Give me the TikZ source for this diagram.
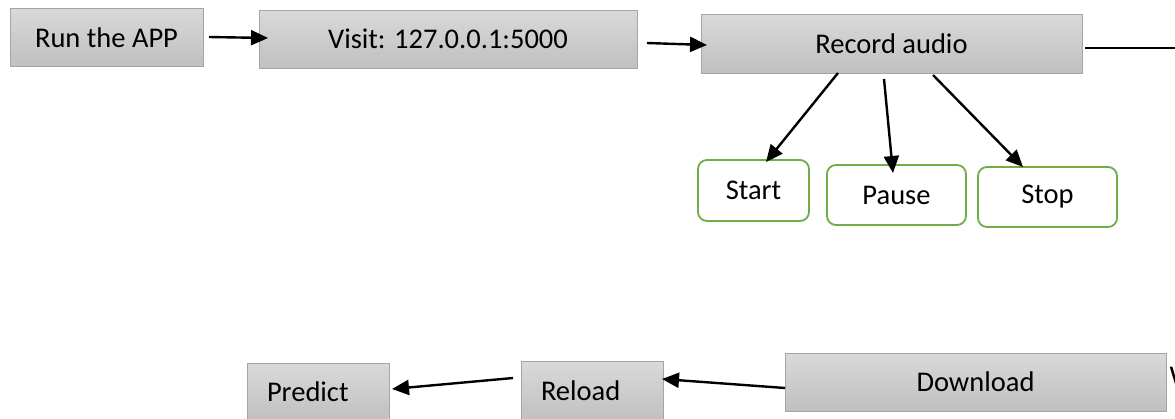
\documentclass[tikz,border=0pt]{standalone}
\usepackage{fontspec}
\setmainfont{Carlito}
\usetikzlibrary{arrows.meta,calc}

\definecolor{boxtop}{RGB}{217,217,217}
\definecolor{boxbot}{RGB}{192,192,192}
\definecolor{boxline}{RGB}{165,165,165}
\definecolor{actgreen}{RGB}{112,173,71}

\tikzset{
  graybox/.style={draw=boxline, line width=1pt, top color=boxtop, bottom color=boxbot,
    inner sep=0pt, outer sep=0pt, font=\fontsize{28.5}{34}\selectfont, text=black},
  leftbox/.style={graybox, align=left, inner xsep=20pt, text width=#1},
  actbox/.style={draw=actgreen, line width=1.8pt, rounded corners=9pt, fill=white,
    inner sep=0pt, outer sep=0pt, font=\fontsize{28.5}{34}\selectfont},
  flow/.style={line width=2.4pt, -{Triangle[length=17pt,width=15pt]}},
  plainline/.style={line width=2.4pt}
}

\begin{document}
\begin{tikzpicture}[x=1pt,y=-1pt]
  \useasboundingbox (0,0) rectangle (1175,418);
  \clip (0,0) rectangle (1175,418);

  % top row
  \node[graybox, minimum width=193pt, minimum height=58pt] (run) at (106.5,37.5) {Run the APP};
  \node[graybox, minimum width=378pt, minimum height=58pt] (visit) at (448,39) {Visit: 127.0.0.1:5000};
  \node[graybox, minimum width=381pt, minimum height=59pt] (record) at (891.5,43.5) {Record audio};
  \coordinate (recout) at (1180,48);

  % recorder controls
  \node[actbox, minimum width=111pt, minimum height=61pt] (start) at (753.5,190.5) {Start};
  \node[actbox, minimum width=139pt, minimum height=60pt] (pause) at (896.5,195) {Pause};
  \node[actbox, minimum width=139pt, minimum height=60pt] (stop) at (1047.5,197) {Stop};

  % bottom row
  \node[leftbox=102pt, minimum width=142pt, minimum height=58pt] (predict) at (318,392) {Predict};
  \node[leftbox=102pt, minimum width=142pt, minimum height=60pt] (reload) at (592,391) {Reload};
  \node[graybox, minimum width=381pt, minimum height=58pt] (download) at (975.5,382) {Download};
  \node[anchor=base west, inner sep=0pt, font=\fontsize{28.5}{34}\selectfont] (wtext) at (1169.5,385) {W};

  % connectors
  \draw[flow] ($(run.east)+(6,-0.5)$) -- ($(visit.west)+(9,-1)$);
  \draw[flow] ($(visit.east)+(10,4)$) -- ($(record.west)+(6,1.5)$);
  \draw[plainline] ($(record.east)+(3,4.5)$) -- (recout);

  \draw[flow] ($(record.south)+(-53.5,0)$) -- ($(start.north)+(12.5,2)$);
  \draw[flow] ($(record.south)+(-7.5,6)$) -- ($(pause.north)+(-3.5,8)$);
  \draw[flow] ($(record.south)+(41.5,2)$) -- ($(stop.north)+(-24.5,0)$);

  \draw[flow] ($(download.west)+(0,6)$) -- ($(reload.east)+(-1,-12)$);
  \draw[flow] ($(reload.west)+(-8,-13)$) -- ($(predict.east)+(3,-3)$);
\end{tikzpicture}
\end{document}
